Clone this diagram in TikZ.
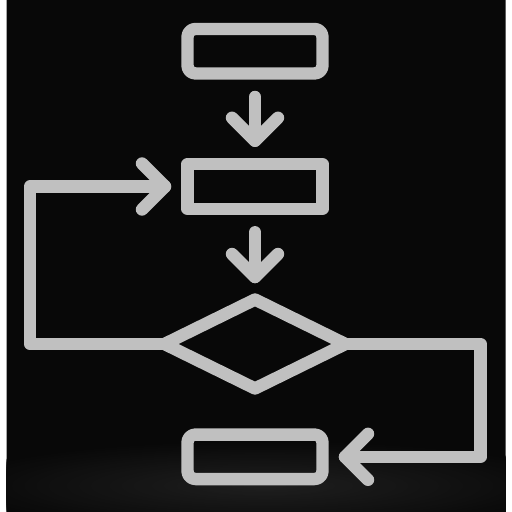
\documentclass[tikz,border=0pt]{standalone}
\usetikzlibrary{shapes.geometric}
\definecolor{ink}{HTML}{C0C0C0}
\definecolor{ground}{HTML}{080808}
\definecolor{glow}{HTML}{1E1E1E}
\tikzset{
  x=1pt,y=-1pt,
  ink line/.style={draw=ink,line width=12.4pt,line join=round,line cap=round},
  termbox/.style={ink line,rectangle,rounded corners=8pt,minimum width=135pt,minimum height=44.5pt,inner sep=0pt,outer sep=0pt},
  procbox/.style={ink line,rectangle,minimum width=135pt,minimum height=44.5pt,inner sep=0pt,outer sep=0pt},
  choice/.style={ink line,diamond,aspect=2.03,minimum width=181pt,minimum height=89pt,inner sep=0pt,outer sep=0pt},
}
\begin{document}
\begin{tikzpicture}
\useasboundingbox (0,0) rectangle (512,512);
\fill[white] (0,0) rectangle (512,512);
\begin{scope}
\clip (6.5,0) rectangle (505.5,512);
\fill[ground] (0,0) rectangle (512,512);
\foreach \i in {0,2,...,100}{
  \pgfmathsetmacro{\rf}{1-\i/100*0.95}
  \fill[glow!\i!ground] (265,486) ellipse [x radius={320*\rf},y radius={46*\rf}];
}
\end{scope}
\node[termbox] (start) at (255,51.2) {};
\node[procbox] (proc) at (255,186.5) {};
\node[choice] (test) at (255,344) {};
\node[termbox] (stop) at (255,456.8) {};
% vertical arrows
\coordinate (a1s) at ([yshift=-23.5pt]start.south);
\coordinate (a1e) at ([yshift=23.5pt]proc.north);
\draw[ink line] (a1s) -- (a1e);
\draw[ink line] (a1e) ++(-23,-23) -- (a1e) -- ++(23,-23);
\coordinate (a2s) at ([yshift=-23.5pt]proc.south);
\coordinate (a2e) at ([yshift=22.5pt]test.north);
\draw[ink line] (a2s) -- (a2e);
\draw[ink line] (a2e) ++(-23,-23) -- (a2e) -- ++(23,-23);
% loop back
\coordinate (c1) at ([xshift=-22.5pt]proc.west);
\draw[ink line] (test.west) -- (30,344) -- (30,186.5) -- (c1);
\draw[ink line] (c1) ++(-23,-23) -- (c1) -- ++(-23,23);
% exit
\coordinate (c2) at ([xshift=22.5pt]stop.east);
\draw[ink line] (test.east) -- (480.5,344) -- (480.5,456.8) -- (c2);
\draw[ink line] (c2) ++(23,-23) -- (c2) -- ++(23,23);
\end{tikzpicture}
\end{document}
